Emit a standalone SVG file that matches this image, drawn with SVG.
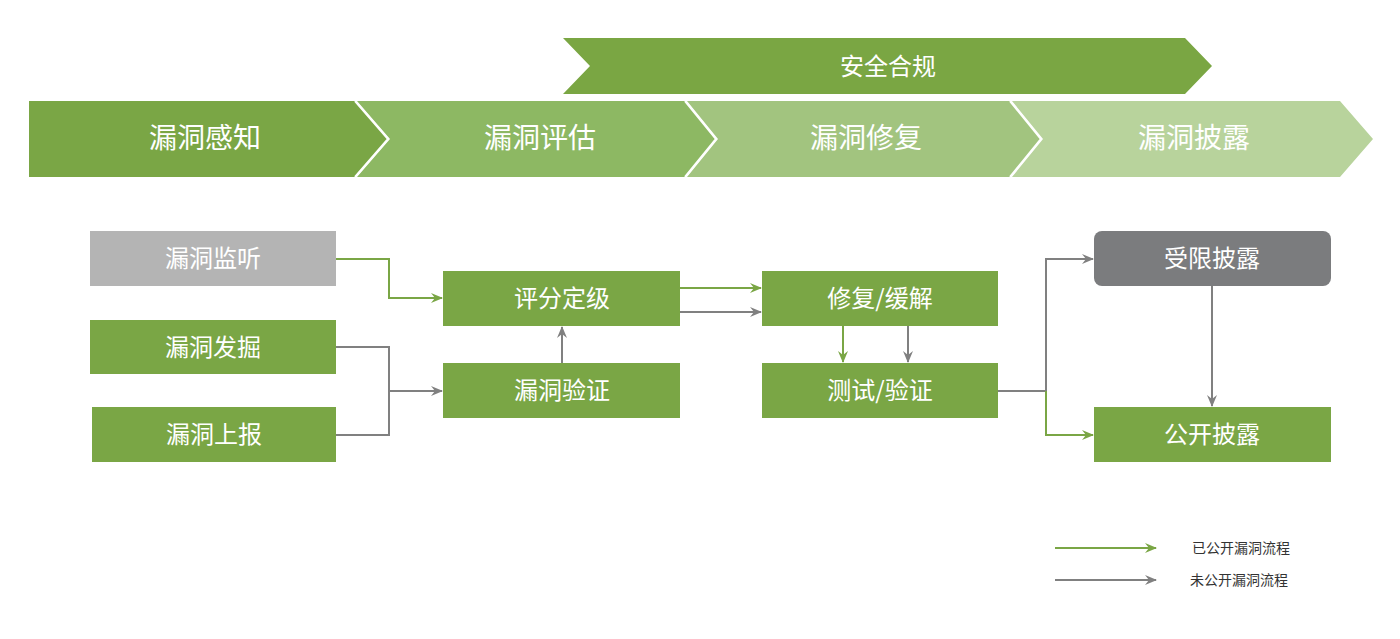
<svg xmlns="http://www.w3.org/2000/svg" width="1400" height="639" viewBox="0 0 1400 639">
<defs>
<style>
.t{font-family:"Noto Sans CJK SC","Noto Sans",sans-serif;fill:#fff;text-anchor:middle;dominant-baseline:central}
.big{font-size:28px}
.mid{font-size:24px}
.leg{font-family:"Noto Sans CJK SC","Noto Sans",sans-serif;font-size:14px;fill:#333;dominant-baseline:central}
.g{fill:#7aa645}
.gray{fill:#b4b4b4}
.dg{fill:#7b7c7e}
.cg{stroke:#7aa645;stroke-width:2;fill:none}
.cy{stroke:#808080;stroke-width:2;fill:none}
</style>
<marker id="ag" viewBox="0 0 12 10" refX="11" refY="5" markerWidth="12" markerHeight="10" markerUnits="userSpaceOnUse" orient="auto">
<path d="M0,0 L12,5 L0,10 L4,5 z" fill="#7aa645"/>
</marker>
<marker id="ay" viewBox="0 0 12 10" refX="11" refY="5" markerWidth="12" markerHeight="10" markerUnits="userSpaceOnUse" orient="auto">
<path d="M0,0 L12,5 L0,10 L4,5 z" fill="#808080"/>
</marker>
</defs>
<rect width="1400" height="639" fill="#fff"/>

<g id="banner">
<polygon points="563,38 1185,38 1212,66 1185,94 563,94 590,66" fill="#7aa643"/>
<text class="t mid" x="888" y="64">安全合规</text>
</g>

<g id="stage1">
<polygon points="29,101 355,101 388,139 355,177 29,177" fill="#7aa645"/>
<text class="t big" x="205" y="136">漏洞感知</text>
</g>
<g id="stage2">
<polygon points="357,101 685,101 716,139 685,177 357,177 390,139" fill="#8db863"/>
<text class="t big" x="540" y="136">漏洞评估</text>
</g>
<g id="stage3">
<polygon points="687,101 1010,101 1041,139 1010,177 687,177 718,139" fill="#a2c47f"/>
<text class="t big" x="866" y="136">漏洞修复</text>
</g>
<g id="stage4">
<polygon points="1012,101 1340,101 1373,139 1340,177 1012,177 1043,139" fill="#b8d39c"/>
<text class="t big" x="1194" y="136">漏洞披露</text>
</g>
<g fill="none" stroke="#fff" stroke-width="2">
<polyline points="355,101 388,139 355,177"/>
<polyline points="685,101 716,139 685,177"/>
<polyline points="1010,101 1041,139 1010,177"/>
</g>

<g id="n-listen"><rect class="gray" x="90" y="231" width="246" height="55"/><text class="t mid" x="213" y="256">漏洞监听</text></g>
<g id="n-mine"><rect class="g" x="90" y="320" width="246" height="54"/><text class="t mid" x="213" y="345">漏洞发掘</text></g>
<g id="n-report"><rect class="g" x="92" y="407" width="244" height="55"/><text class="t mid" x="214" y="432">漏洞上报</text></g>
<g id="n-score"><rect class="g" x="443" y="271" width="237" height="55"/><text class="t mid" x="562" y="296">评分定级</text></g>
<g id="n-verify"><rect class="g" x="443" y="363" width="237" height="55"/><text class="t mid" x="562" y="388">漏洞验证</text></g>
<g id="n-fix"><rect class="g" x="762" y="271" width="236" height="55"/><text class="t mid" x="880" y="296">修复/缓解</text></g>
<g id="n-test"><rect class="g" x="762" y="363" width="236" height="55"/><text class="t mid" x="880" y="388">测试/验证</text></g>
<g id="n-limited"><rect class="dg" x="1094" y="231" width="237" height="55" rx="8"/><text class="t mid" x="1212" y="256">受限披露</text></g>
<g id="n-public"><rect class="g" x="1094" y="407" width="237" height="55"/><text class="t mid" x="1212" y="432">公开披露</text></g>

<g id="connectors">
<polyline class="cg" points="336,259 389,259 389,298 442,298" marker-end="url(#ag)"/>
<polyline class="cy" points="336,347 389,347 389,435 336,435"/>
<polyline class="cy" points="389,391 442,391" marker-end="url(#ay)"/>
<polyline class="cy" points="562,363 562,327" marker-end="url(#ay)"/>
<polyline class="cg" points="680,288 761,288" marker-end="url(#ag)"/>
<polyline class="cy" points="680,312 761,312" marker-end="url(#ay)"/>
<polyline class="cg" points="843,326 843,362" marker-end="url(#ag)"/>
<polyline class="cy" points="908,326 908,362" marker-end="url(#ay)"/>
<polyline class="cy" points="998,391 1046,391 1046,259 1093,259" marker-end="url(#ay)"/>
<polyline class="cg" points="1046,391 1046,435 1093,435" marker-end="url(#ag)"/>
<polyline class="cy" points="1212,286 1212,406" marker-end="url(#ay)"/>
</g>

<g id="legend">
<line class="cg" x1="1055" y1="548" x2="1156" y2="548" marker-end="url(#ag)"/>
<text class="leg" x="1192" y="547">已公开漏洞流程</text>
<line class="cy" x1="1055" y1="580" x2="1156" y2="580" marker-end="url(#ay)"/>
<text class="leg" x="1190" y="579">未公开漏洞流程</text>
</g>
</svg>
